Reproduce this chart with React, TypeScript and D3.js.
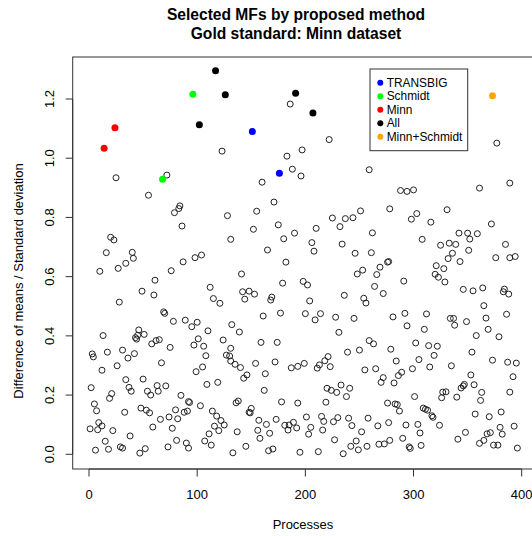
import React from "react";
import * as d3 from "d3";

const W = 532;
const H = 536;
const FONT = "'Liberation Sans', Arial, Helvetica, sans-serif";

const xTicks = [0, 100, 200, 300, 400];
const yTicks = [0, 0.2, 0.4, 0.6, 0.8, 1.0, 1.2];

// MFs picked by each method: [process index, difference of means / sd]
const transbigPts: [number, number][] = [[151, 1.09], [176, 0.949]];
const schmidtPts: [number, number][] = [[96, 1.216], [68, 0.929]];
const minnPts: [number, number][] = [[24, 1.103], [14, 1.034]];
const allPts: [number, number][] = [[117, 1.295], [126, 1.214], [102, 1.113], [191, 1.219], [207, 1.153]];
const minnSchmidtPts: [number, number][] = [[373, 1.211]];

const methods = ["TRANSBIG", "Schmidt", "Minn", "All", "Minn+Schmidt"];
const methodColors = ["#0000FF", "#00FF00", "#FF0000", "#000000", "#FFA500"];
const methodPts = [transbigPts, schmidtPts, minnPts, allPts, minnSchmidtPts];

// all other processes
const otherPts: [number, number][] = [
  [123, 1.024], [25, 0.934], [72, 0.943], [55, 0.875], [186, 1.183], [222, 1.063], [197, 1.028], [183, 1.007],
  [188, 0.963], [196, 0.94], [160, 0.919], [259, 0.961], [377, 1.051], [389, 0.916], [361, 0.899], [288, 0.891],
  [294, 0.888], [300, 0.893], [84, 0.839], [83, 0.83], [79, 0.816], [128, 0.806], [86, 0.771], [20, 0.733],
  [23, 0.724], [131, 0.726], [16, 0.681], [40, 0.682], [41, 0.662], [34, 0.645], [10, 0.618], [27, 0.628],
  [87, 0.65], [98, 0.664], [104, 0.673], [76, 0.62], [61, 0.588], [49, 0.551], [60, 0.538], [112, 0.564],
  [115, 0.526], [121, 0.51], [28, 0.514], [69, 0.481], [70, 0.476], [78, 0.449], [89, 0.453], [95, 0.431],
  [100, 0.446], [46, 0.42], [110, 0.417], [132, 0.438],
  [171, 0.852], [155, 0.821], [152, 0.76], [175, 0.775], [180, 0.728], [190, 0.747], [210, 0.763], [225, 0.798],
  [232, 0.769], [237, 0.796], [244, 0.799], [251, 0.822], [278, 0.829], [262, 0.748], [206, 0.715], [208, 0.686],
  [165, 0.69], [234, 0.71], [246, 0.679], [261, 0.681], [182, 0.649], [276, 0.649], [277, 0.651], [269, 0.632],
  [266, 0.607], [253, 0.622], [248, 0.609], [141, 0.609], [179, 0.578], [198, 0.584], [202, 0.572], [264, 0.567],
  [272, 0.543], [142, 0.549], [148, 0.551], [153, 0.541], [144, 0.524], [169, 0.531], [168, 0.521], [204, 0.518],
  [236, 0.537], [254, 0.527], [256, 0.511], [161, 0.467], [177, 0.477], [200, 0.475], [214, 0.475], [209, 0.454],
  [228, 0.463], [245, 0.459],
  [298, 0.794], [303, 0.813], [331, 0.826], [316, 0.784], [372, 0.778], [308, 0.726], [325, 0.706], [333, 0.713],
  [339, 0.709], [342, 0.747], [350, 0.747], [359, 0.745], [352, 0.727], [351, 0.689], [336, 0.679], [332, 0.661],
  [343, 0.651], [385, 0.709], [376, 0.664], [389, 0.664], [394, 0.668], [321, 0.637], [328, 0.627], [320, 0.608],
  [323, 0.598], [329, 0.582], [291, 0.585], [346, 0.557], [355, 0.552], [364, 0.562], [384, 0.558], [383, 0.549],
  [388, 0.541], [365, 0.502], [292, 0.476], [312, 0.474], [281, 0.464], [334, 0.459], [337, 0.459], [349, 0.448],
  [367, 0.46], [386, 0.473], [294, 0.434], [338, 0.436], [310, 0.422], [369, 0.422],
  [13, 0.401], [43, 0.394], [45, 0.402], [44, 0.389], [51, 0.405], [58, 0.373], [62, 0.384], [65, 0.387],
  [75, 0.361], [97, 0.369], [101, 0.39], [106, 0.365], [124, 0.386], [131, 0.358], [3, 0.339], [4, 0.329],
  [17, 0.345], [31, 0.352], [36, 0.325], [42, 0.34], [67, 0.309], [108, 0.333], [127, 0.335], [130, 0.332],
  [131, 0.315], [135, 0.304], [140, 0.293], [12, 0.284], [26, 0.299], [99, 0.279], [105, 0.295], [34, 0.252],
  [50, 0.254], [2, 0.225], [37, 0.226], [39, 0.213], [54, 0.213], [57, 0.2], [63, 0.232], [64, 0.213],
  [71, 0.231], [109, 0.236], [119, 0.243], [21, 0.205], [19, 0.189], [85, 0.199], [92, 0.178], [93, 0.175],
  [103, 0.164], [5, 0.17], [7, 0.147], [33, 0.142], [48, 0.156], [53, 0.149], [56, 0.14], [80, 0.15],
  [88, 0.142], [91, 0.146], [114, 0.146], [118, 0.129], [122, 0.114], [125, 0.099], [66, 0.118], [74, 0.126],
  [82, 0.12], [9, 0.107], [1, 0.086], [8, 0.083], [12, 0.096], [22, 0.08], [59, 0.092], [77, 0.088],
  [116, 0.095], [120, 0.08], [38, 0.062], [111, 0.069], [15, 0.044], [6, 0.014], [18, 0.017], [29, 0.025],
  [31, 0.021], [47, 0.004], [52, 0.019], [73, 0.025], [81, 0.047], [90, 0.038], [92, 0.021], [107, 0.045],
  [113, 0.031], [133, 0.005],
  [139, 0.413], [231, 0.412], [159, 0.378], [174, 0.378], [259, 0.384], [263, 0.373], [239, 0.345], [250, 0.352],
  [279, 0.355], [154, 0.307], [172, 0.312], [187, 0.292], [193, 0.297], [199, 0.307], [211, 0.291], [213, 0.302],
  [218, 0.316], [221, 0.33], [223, 0.296], [255, 0.285], [265, 0.289], [272, 0.259], [270, 0.243], [146, 0.268],
  [143, 0.257], [163, 0.272], [162, 0.216], [220, 0.223], [224, 0.216], [229, 0.209], [233, 0.234], [241, 0.223],
  [238, 0.195], [136, 0.174], [138, 0.18], [178, 0.177], [193, 0.173], [219, 0.176], [276, 0.173], [148, 0.142],
  [150, 0.155], [149, 0.14], [173, 0.118], [157, 0.115], [164, 0.101], [181, 0.098], [185, 0.099], [189, 0.108],
  [184, 0.082], [192, 0.089], [201, 0.126], [205, 0.091], [203, 0.068], [215, 0.128], [217, 0.111], [216, 0.082],
  [226, 0.11], [230, 0.124], [240, 0.122], [243, 0.097], [258, 0.122], [267, 0.096], [277, 0.107], [137, 0.076],
  [156, 0.081], [167, 0.071], [158, 0.054], [252, 0.076], [227, 0.049], [145, 0.027], [166, 0.012], [170, 0.018],
  [195, 0.007], [212, 0.009], [235, 0.002], [242, 0.027], [247, 0.045], [249, 0.015], [257, 0.027], [268, 0.034],
  [273, 0.035], [278, 0.047],
  [358, 0.401], [379, 0.397], [302, 0.376], [314, 0.367], [322, 0.365], [319, 0.334], [354, 0.345], [284, 0.315],
  [305, 0.32], [315, 0.295], [299, 0.289], [335, 0.299], [373, 0.318], [387, 0.311], [395, 0.308], [392, 0.262],
  [289, 0.277], [286, 0.266], [282, 0.241], [353, 0.268], [356, 0.235], [344, 0.224], [346, 0.231], [347, 0.236],
  [327, 0.21], [330, 0.211], [326, 0.191], [340, 0.193], [363, 0.209], [362, 0.182], [389, 0.21], [301, 0.195],
  [283, 0.17], [285, 0.168], [287, 0.146], [309, 0.156], [311, 0.152], [313, 0.149], [317, 0.13], [318, 0.125],
  [357, 0.136], [370, 0.127], [381, 0.143], [293, 0.099], [304, 0.101], [306, 0.072], [324, 0.098], [348, 0.074],
  [341, 0.051], [368, 0.069], [371, 0.073], [382, 0.068], [380, 0.091], [393, 0.095], [290, 0.054], [296, 0.025],
  [297, 0.02], [307, 0.03], [361, 0.037], [365, 0.047], [374, 0.031], [378, 0.031], [396, 0.021],
];

const App = () => {
  const x = d3.scaleLinear().domain([0, 400]).range([89, 521.7]);
  const y = d3.scaleLinear().domain([0, 1.2]).range([454.3, 99]);

  const left = 72.7, top = 57, bottom = 469, right = 538;
  const fmt = d3.format(".1f");

  return (
    <svg width={W} height={H} style={{ position: "absolute", left: 0, top: 0, background: "#fff" }} fontFamily={FONT}>
      {/* title */}
      <text x={296} y={20} textAnchor="middle" fontSize={15.6} fontWeight="bold">Selected MFs by proposed method</text>
      <text x={296} y={39} textAnchor="middle" fontSize={15.6} fontWeight="bold">Gold standard: Minn dataset</text>

      {/* plot box */}
      <rect x={left} y={top} width={right - left} height={bottom - top} fill="none" stroke="#333" strokeWidth={1} />

      {/* x axis */}
      <line x1={x(0)} x2={x(400)} y1={bottom} y2={bottom} stroke="#333" />
      {xTicks.map(t => (
        <g key={"x" + t}>
          <line x1={x(t)} x2={x(t)} y1={bottom} y2={bottom + 7.5} stroke="#333" />
          <text x={x(t)} y={498.7} textAnchor="middle" fontSize={13}>{t}</text>
        </g>
      ))}
      <text x={303} y={529} textAnchor="middle" fontSize={13}>Processes</text>

      {/* y axis */}
      <line x1={left} x2={left} y1={y(0)} y2={y(1.2)} stroke="#333" />
      {yTicks.map(t => (
        <g key={"y" + t}>
          <line x1={left - 7} x2={left} y1={y(t)} y2={y(t)} stroke="#333" />
          <text transform={`translate(53.5, ${y(t)}) rotate(-90)`} textAnchor="middle" fontSize={13}>{fmt(t)}</text>
        </g>
      ))}
      <text transform="translate(23, 281) rotate(-90)" textAnchor="middle" fontSize={13}>
        Difference of means / Standard deviation
      </text>

      {/* other processes */}
      {otherPts.map((d, i) => (
        <circle key={"o" + i} cx={x(d[0])} cy={y(d[1])} r={3} fill="none" stroke="#222" strokeWidth={1} />
      ))}

      {/* selected MFs */}
      {methodPts.map((pts, k) =>
        pts.map((d, i) => (
          <circle key={"m" + k + "_" + i} cx={x(d[0])} cy={y(d[1])} r={3.5} fill={methodColors[k]} />
        ))
      )}

      {/* legend */}
      <rect x={370} y={69} width={97.7} height={81.7} fill="#fff" stroke="#333" />
      {methods.map((m, i) => (
        <g key={m}>
          <circle cx={380.3} cy={82.7 + i * 13.5} r={3} fill={methodColors[i]} />
          <text x={386.7} y={82.7 + i * 13.5 + 4.2} fontSize={11.9}>{m}</text>
        </g>
      ))}
    </svg>
  );
};

export default App;
